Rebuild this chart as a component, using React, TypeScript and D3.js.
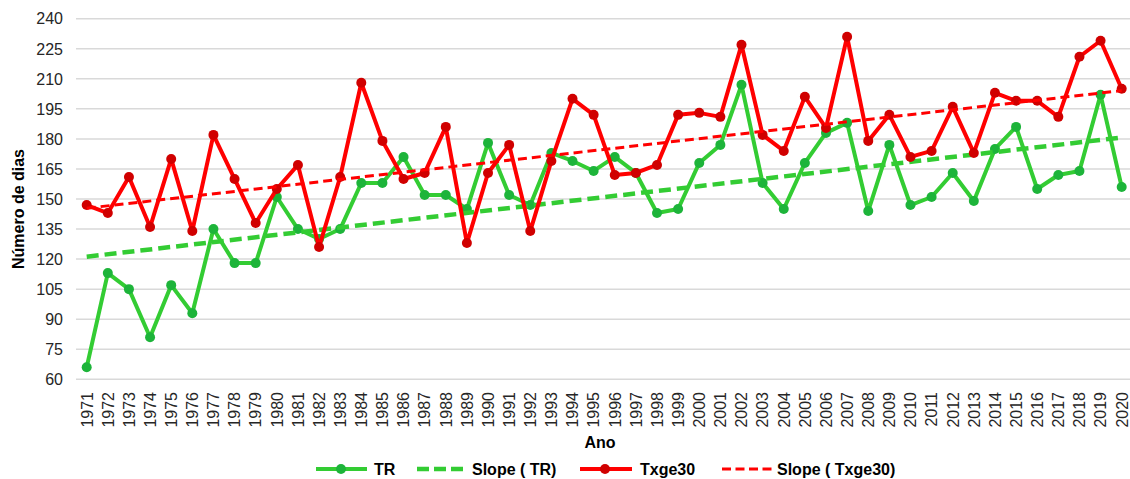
import React from "react";
import * as d3 from "d3";

const years: number[] = [
  1971, 1972, 1973, 1974, 1975, 1976, 1977, 1978, 1979, 1980,
  1981, 1982, 1983, 1984, 1985, 1986, 1987, 1988, 1989, 1990,
  1991, 1992, 1993, 1994, 1995, 1996, 1997, 1998, 1999, 2000,
  2001, 2002, 2003, 2004, 2005, 2006, 2007, 2008, 2009, 2010,
  2011, 2012, 2013, 2014, 2015, 2016, 2017, 2018, 2019, 2020,
];

const trValues: number[] = [
  66, 113, 105, 81, 107, 93, 135, 118, 118, 151,
  135, 130, 135, 158, 158, 171, 152, 152, 145, 178,
  152, 147, 173, 169, 164, 171, 163, 143, 145, 168,
  177, 207, 158, 145, 168, 183, 188, 144, 177, 147,
  151, 163, 149, 175, 186, 155, 162, 164, 202, 156,
];

const txValues: number[] = [
  147, 143, 161, 136, 170, 134, 182, 160, 138, 155,
  167, 126, 161, 208, 179, 160, 163, 186, 128, 163,
  177, 134, 169, 200, 192, 162, 163, 167, 192, 193,
  191, 227, 182, 174, 201, 185.5, 231, 179, 192, 171,
  174, 196, 173, 203, 199, 199, 191, 221, 229, 205,
];

// trend line end values (first year, last year)
const slopeTR: number[] = [121.2, 180.7];
const slopeTx: number[] = [145.4, 204.1];

const yTicks: number[] = [60, 75, 90, 105, 120, 135, 150, 165, 180, 195, 210, 225, 240];

const W = 1130;
const H = 479;
const FONT = "Arial, 'Liberation Sans', sans-serif";

export default function App() {
  const x = d3.scalePoint<number>().domain(years).range([86.7, 1121.7]);
  const y = d3.scaleLinear().domain([60, 240]).range([379.3, 18.7]);

  const line = d3
    .line<[number, number]>()
    .x((d) => x(d[0]) as number)
    .y((d) => y(d[1]));

  const trPts: [number, number][] = years.map((yr, i) => [yr, trValues[i]]);
  const txPts: [number, number][] = years.map((yr, i) => [yr, txValues[i]]);
  const first = years[0];
  const last = years[years.length - 1];
  const sTR: [number, number][] = [[first, slopeTR[0]], [last, slopeTR[1]]];
  const sTx: [number, number][] = [[first, slopeTx[0]], [last, slopeTx[1]]];

  const greenLine = "#33CC33";
  const greenMarker = "#1DB43A";
  const redLine = "#FF0000";
  const redMarker = "#D00000";

  const legendY = 469;

  return (
    <svg
      width={W}
      height={H}
      style={{ position: "absolute", left: 0, top: 0, background: "#fff" }}
      fontFamily={FONT}
    >
      {/* gridlines */}
      {yTicks.map((t) => (
        <line
          key={"g" + t}
          x1={76}
          x2={1132}
          y1={y(t)}
          y2={y(t)}
          stroke="#d9d9d9"
          strokeWidth={1.5}
        />
      ))}
      {/* y tick labels */}
      {yTicks.map((t) => (
        <text
          key={"yt" + t}
          x={63}
          y={y(t)}
          dy="0.36em"
          textAnchor="end"
          fontSize={16}
          fill="#262626"
        >
          {t}
        </text>
      ))}
      {/* x tick labels */}
      {years.map((yr) => (
        <text
          key={"xt" + yr}
          transform={`translate(${(x(yr) as number) + 5.8},392) rotate(-90)`}
          textAnchor="end"
          fontSize={16}
          fill="#262626"
        >
          {yr}
        </text>
      ))}
      {/* axis titles */}
      <text x={600} y={448} textAnchor="middle" fontSize={16} fontWeight="bold" fill="#000">
        Ano
      </text>
      <text
        transform="translate(24,209) rotate(-90)"
        textAnchor="middle"
        fontSize={16}
        fontWeight="bold"
        fill="#000"
      >
        Número de dias
      </text>

      {/* TR series */}
      <path d={line(trPts) || ""} fill="none" stroke={greenLine} strokeWidth={4} strokeLinejoin="round" />
      {trPts.map((p) => (
        <circle key={"tr" + p[0]} cx={x(p[0]) as number} cy={y(p[1])} r={5} fill={greenMarker} />
      ))}
      {/* Slope TR */}
      <path d={line(sTR) || ""} fill="none" stroke={greenLine} strokeWidth={4.5} strokeDasharray="12,6" />

      {/* Txge30 series */}
      <path d={line(txPts) || ""} fill="none" stroke={redLine} strokeWidth={4} strokeLinejoin="round" />
      {txPts.map((p) => (
        <circle key={"tx" + p[0]} cx={x(p[0]) as number} cy={y(p[1])} r={5} fill={redMarker} />
      ))}
      {/* Slope Txge30 */}
      <path d={line(sTx) || ""} fill="none" stroke={redLine} strokeWidth={3} strokeDasharray="9,5" />

      {/* legend */}
      <g fontSize={16} fontWeight="bold" fill="#000">
        <line x1={316} x2={367} y1={legendY} y2={legendY} stroke={greenLine} strokeWidth={4} />
        <circle cx={341} cy={legendY} r={5} fill={greenMarker} />
        <text x={374} y={legendY} dy="0.36em">TR</text>

        <line x1={417} x2={466} y1={legendY} y2={legendY} stroke={greenLine} strokeWidth={4.5} strokeDasharray="12,5" />
        <text x={472} y={legendY} dy="0.36em">Slope ( TR)</text>

        <line x1={580} x2={632} y1={legendY} y2={legendY} stroke={redLine} strokeWidth={4} />
        <circle cx={605} cy={legendY} r={5} fill={redMarker} />
        <text x={640} y={legendY} dy="0.36em">Txge30</text>

        <line x1={722} x2={772} y1={legendY} y2={legendY} stroke={redLine} strokeWidth={3} strokeDasharray="9,4.5" />
        <text x={777} y={legendY} dy="0.36em">Slope ( Txge30)</text>
      </g>
    </svg>
  );
}
